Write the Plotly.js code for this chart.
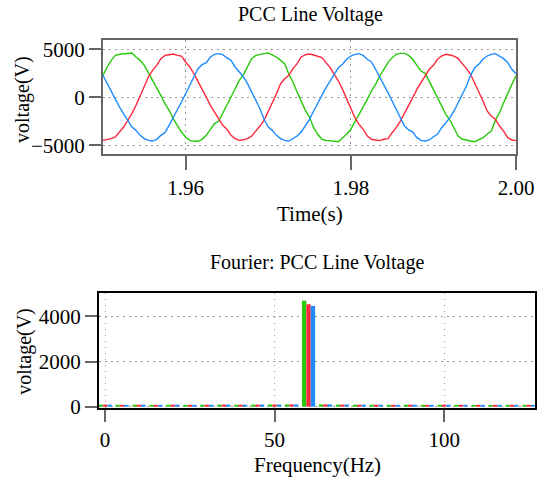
<!DOCTYPE html>
<html>
<head>
<meta charset="utf-8">
<script src="https://cdn.plot.ly/plotly-3.0.1.min.js"></script>
<style>html,body{margin:0;padding:0;background:#fff;}#chart{width:542px;height:479px;}</style>
</head>
<body>
<div id="chart"></div>
<script>
// ---- Time-domain data (s, V) ----
const timeS = [1.95,1.9505,1.951,1.9515,1.952,1.9525,1.953,1.9535,1.954,1.9545,1.955,1.9555,1.956,1.9565,1.957,1.9575,1.958,1.9585,1.959,1.9595,
1.96,1.9605,1.961,1.9615,1.962,1.9625,1.963,1.9635,1.964,1.9645,1.965,1.9655,1.966,1.9665,1.967,1.9675,1.968,1.9685,1.969,1.9695,
1.97,1.9705,1.971,1.9715,1.972,1.9725,1.973,1.9735,1.974,1.9745,1.975,1.9755,1.976,1.9765,1.977,1.9775,1.978,1.9785,1.979,1.9795,
1.98,1.9805,1.981,1.9815,1.982,1.9825,1.983,1.9835,1.984,1.9845,1.985,1.9855,1.986,1.9865,1.987,1.9875,1.988,1.9885,1.989,1.9895,
1.99,1.9905,1.991,1.9915,1.992,1.9925,1.993,1.9935,1.994,1.9945,1.995,1.9955,1.996,1.9965,1.997,1.9975,1.998,1.9985,1.999,1.9995,2.0];

const vGreen = [2290,3160,3850,4370,4480,4550,4620,4620,4200,3850,3330,2570,1870,1080,210,-660,-1350,-2220,-2920,-3610,
-4130,-4480,-4580,-4580,-4370,-3960,-3330,-2740,-2500,-1700,-830,30,900,1770,2360,3160,4030,4370,4480,4550,
4620,4440,4200,3850,3510,2400,1600,560,-490,-1350,-2050,-3160,-3850,-4370,-4480,-4550,-4620,-4620,-4200,-3850,
-3330,-2570,-1870,-1080,-210,660,1350,2220,2920,3610,4130,4480,4580,4580,4370,3960,3330,2740,2500,1700,
830,-30,-900,-1770,-2360,-3160,-4030,-4370,-4480,-4550,-4620,-4440,-4200,-3850,-3510,-2400,-1600,-560,490,1350,2250];

const vRed = [-4480,-4410,-4300,-4130,-3610,-3090,-2400,-1700,-830,210,1250,2120,2810,3330,4030,4370,4440,4510,4370,4300,
3680,3160,2470,1600,900,30,-830,-1530,-2220,-2920,-3330,-3960,-4300,-4480,-4410,-4300,-4030,-3540,-2990,-2400,
-1530,-660,380,1420,1940,2290,2990,3510,4200,4440,4510,4410,4300,4130,3610,3090,2400,1700,830,-210,
-1250,-2120,-2810,-3330,-4030,-4370,-4440,-4510,-4370,-4300,-3680,-3160,-2470,-1600,-900,-30,830,1530,2220,2920,
3330,3960,4300,4480,4410,4300,4030,3540,2990,2400,1530,660,-380,-1420,-1940,-2290,-2990,-3510,-4200,-4440,-4510];

const vBlue = [2290,1420,560,-210,-1010,-1700,-2400,-3090,-3440,-3960,-4300,-4480,-4550,-4370,-3960,-3680,-2920,-2150,-1350,-490,
380,1250,2120,2990,3400,3610,4200,4480,4550,4440,4100,3850,3160,2640,2120,1420,560,-310,-1180,-2290,
-3090,-3440,-3960,-4300,-4480,-4550,-4300,-4030,-3610,-2920,-2290,-1420,-560,210,1010,1700,2400,3090,3440,3960,
4300,4480,4550,4370,3960,3680,2920,2150,1350,490,-380,-1250,-2120,-2990,-3400,-3610,-4200,-4480,-4550,-4440,
-4100,-3850,-3160,-2640,-2120,-1420,-560,310,1180,2290,3090,3440,3960,4300,4480,4550,4300,4030,3610,2920,2450];

// ---- Fourier data (Hz, V) ----
const freqHz = [0,5,10,15,20,25,30,35,40,45,50,55,60,65,70,75,80,85,90,95,100,105,110,115,120,125];
const fGreen = [90,80,85,80,85,80,85,90,85,90,95,100,4700,100,90,85,85,80,85,80,85,80,80,80,80,80];
const fRed   = [90,80,85,80,85,80,85,90,85,90,95,100,4540,100,90,85,85,80,85,80,85,80,80,80,80,80];
const fBlue  = [90,80,85,80,85,80,85,90,85,90,95,100,4470,100,90,85,85,80,85,80,85,80,80,80,80,80];

const cGreen = 'rgb(40,200,10)';
const cRed = 'rgb(255,40,60)';
const cBlue = 'rgb(30,140,255)';
const FONT = '"Liberation Serif", serif';

const traces = [
  {x: timeS, y: vGreen, type: 'scatter', mode: 'lines', line: {color: cGreen, width: 1.4}, xaxis: 'x', yaxis: 'y', name: 'Vab'},
  {x: timeS, y: vRed, type: 'scatter', mode: 'lines', line: {color: cRed, width: 1.4}, xaxis: 'x', yaxis: 'y', name: 'Vbc'},
  {x: timeS, y: vBlue, type: 'scatter', mode: 'lines', line: {color: cBlue, width: 1.4}, xaxis: 'x', yaxis: 'y', name: 'Vca'},
  {x: freqHz, y: fGreen, type: 'bar', marker: {color: cGreen, line: {width: 0}}, xaxis: 'x2', yaxis: 'y2', name: 'Vab'},
  {x: freqHz, y: fRed, type: 'bar', marker: {color: cRed, line: {width: 0}}, xaxis: 'x2', yaxis: 'y2', name: 'Vbc'},
  {x: freqHz, y: fBlue, type: 'bar', marker: {color: cBlue, line: {width: 0}}, xaxis: 'x2', yaxis: 'y2', name: 'Vca'}
];

function ax(extra) {
  return Object.assign({
    showline: true, mirror: true, linewidth: 2,
    ticks: 'outside', tickwidth: 2, tickcolor: '#666',
    showgrid: true, gridcolor: '#999', gridwidth: 1.2, griddash: '1.5px,4.5px',
    zeroline: false, automargin: false,
    tickfont: {family: FONT, size: 21, color: '#000'}
  }, extra);
}
const xtFont = {family: FONT, size: 21, color: '#000'};
const ytFont = {family: FONT, size: 20, color: '#000'};
const hFont = {family: FONT, size: 20, color: '#000'};

const layout = {
  width: 542, height: 479,
  margin: {l: 0, r: 0, t: 0, b: 0},
  paper_bgcolor: '#fff', plot_bgcolor: '#fff',
  showlegend: false,
  barmode: 'group', bargap: 0.22, bargroupgap: 0,
  font: {family: FONT, size: 21, color: '#000'},
  xaxis: ax({
    domain: [0.19004, 0.95203], anchor: 'y',
    range: [1.95, 2.0], tickvals: [1.96, 1.98, 2.0], ticktext: ['1.96', '1.98', '2.00'],
    linecolor: '#666', ticklen: 14
  }),
  yaxis: ax({
    domain: [0.6785, 0.91649], anchor: 'x',
    range: [-5900, 5970], tickvals: [-5000, 0, 5000],
    linecolor: '#666', ticklen: 12
  }),
  xaxis2: ax({
    domain: [0.18266, 0.98708], anchor: 'y2',
    range: [-1.8, 126.8], tickvals: [0, 50, 100],
    linecolor: '#000', ticklen: 12
  }),
  yaxis2: ax({
    domain: [0.14823, 0.38831], anchor: 'x2',
    range: [-60, 5040], tickvals: [0, 2000, 4000],
    linecolor: '#000', ticklen: 12
  }),
  annotations: [
    {text: 'PCC Line Voltage', xref: 'paper', yref: 'paper', x: 0.572, y: 0.9687,
     xanchor: 'center', yanchor: 'middle', showarrow: false, font: hFont},
    {text: 'Fourier: PCC Line Voltage', xref: 'paper', yref: 'paper', x: 0.585, y: 0.451,
     xanchor: 'center', yanchor: 'middle', showarrow: false, font: hFont},
    {text: 'Time(s)', xref: 'paper', yref: 'paper', x: 0.5720, y: 0.5532,
     xanchor: 'center', yanchor: 'middle', showarrow: false, font: xtFont},
    {text: 'Frequency(Hz)', xref: 'paper', yref: 'paper', x: 0.5867, y: 0.0290,
     xanchor: 'center', yanchor: 'middle', showarrow: false, font: xtFont},
    {text: 'voltage(V)', xref: 'paper', yref: 'paper', x: 0.0415, y: 0.7923, textangle: -90,
     xanchor: 'center', yanchor: 'middle', showarrow: false, font: ytFont},
    {text: 'voltage(V)', xref: 'paper', yref: 'paper', x: 0.0440, y: 0.2672, textangle: -90,
     xanchor: 'center', yanchor: 'middle', showarrow: false, font: ytFont}
  ]
};

Plotly.newPlot('chart', traces, layout, {staticPlot: true, displayModeBar: false});
</script>
</body>
</html>
